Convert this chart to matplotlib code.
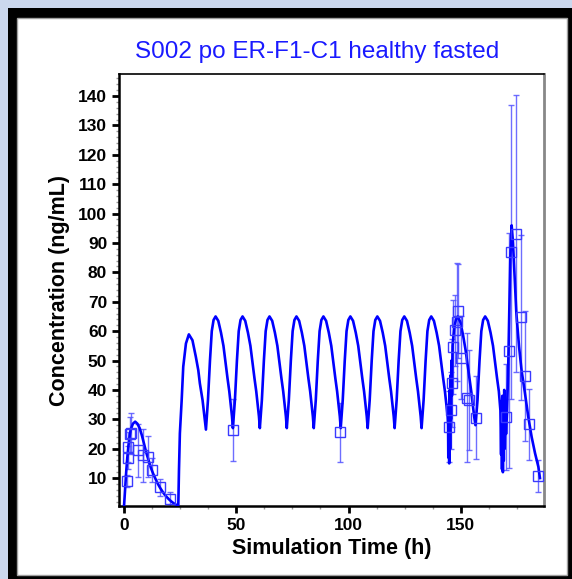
import matplotlib
matplotlib.use("Agg")
import matplotlib.pyplot as plt
from matplotlib.patches import Rectangle
from matplotlib.ticker import MultipleLocator

plt.rcParams['font.family'] = ['Liberation Sans', 'DejaVu Sans']

title = "S002 po ER-F1-C1 healthy fasted"
x_label = "Simulation Time (h)"
y_label = "Concentration (ng/mL)"

# simulated curve
sim_t = [0, 0.5, 1, 1.5, 2, 2.5, 3, 4, 5, 6, 7, 8, 9, 10, 11, 12, 13, 14, 15, 16, 17, 18, 19, 20, 21, 22, 23, 24.2,
         24.5, 24.9, 25.7, 26.4, 27.6, 28.9, 30.5, 32.0, 33.1, 33.8, 35.0, 36.0, 36.5,
         37.4, 38.3, 39.1, 39.9, 40.8, 42.0, 43.2, 44.3, 45.2, 46.1, 46.9, 47.6, 48.1, 48.5,
         49.4, 50.3, 51.1, 51.9, 52.8, 54.0, 55.2, 56.3, 57.2, 58.1, 58.9, 59.6, 60.1, 60.5,
         61.4, 62.3, 63.1, 63.9, 64.8, 66.0, 67.2, 68.3, 69.2, 70.1, 70.9, 71.6, 72.1, 72.5,
         73.4, 74.3, 75.1, 75.9, 76.8, 78.0, 79.2, 80.3, 81.2, 82.1, 82.9, 83.6, 84.1, 84.5,
         85.4, 86.3, 87.1, 87.9, 88.8, 90.0, 91.2, 92.3, 93.2, 94.1, 94.9, 95.6, 96.1, 96.5,
         97.4, 98.3, 99.1, 99.9, 100.8, 102.0, 103.2, 104.3, 105.2, 106.1, 106.9, 107.6, 108.1, 108.5,
         109.4, 110.3, 111.1, 111.9, 112.8, 114.0, 115.2, 116.3, 117.2, 118.1, 118.9, 119.6, 120.1, 120.5,
         121.4, 122.3, 123.1, 123.9, 124.8, 126.0, 127.2, 128.3, 129.2, 130.1, 130.9, 131.6, 132.1, 132.5,
         133.4, 134.3, 135.1, 135.9, 136.8, 138.0, 139.2, 140.3, 141.2, 142.1, 142.9, 143.6, 144.1, 144.3,
         144.4, 144.6, 144.8, 145.0, 145.2, 145.4, 145.6, 145.8, 146.0, 146.3, 147.0, 147.8, 148.6,
         149.8, 151.0, 152.1, 153.0, 153.9, 154.7, 155.4, 155.9, 156.5,
         157.4, 158.3, 159.1, 159.9, 160.8, 162.0, 163.2, 164.3, 165.2, 166.1, 166.9, 167.6,
         167.9, 168.1, 168.3, 168.5, 168.7, 168.9, 169.1, 169.3, 169.5, 169.8, 170.1, 170.5,
         171.0, 171.5, 172.0, 172.6, 173.2, 174.0, 174.7, 175.9, 177.0, 178.5, 180.0, 181.5, 183.0, 184.5, 185.2]
sim_c = [0, 6, 12, 17, 21, 24, 26.5, 28.5, 29.2, 28.5, 27, 24.5, 21.5, 18.5, 16, 13.5, 11.5, 9.8, 8.2, 6.8, 5.6, 4.5, 3.6, 2.8, 2.1, 1.5, 1.0, 0.7,
         12.7, 25.2, 36.5, 47.9, 55.8, 58.9, 56.9, 51.3, 46.7, 42.2, 36.5, 29.7, 26.5,
         36.5, 50, 60, 63.8, 65, 63.5, 59.5, 55, 49.5, 44, 39.5, 34.5, 31, 27,
         36.5, 50, 60, 63.8, 65, 63.5, 59.5, 55, 49.5, 44, 39.5, 34.5, 31, 27,
         36.5, 50, 60, 63.8, 65, 63.5, 59.5, 55, 49.5, 44, 39.5, 34.5, 31, 27,
         36.5, 50, 60, 63.8, 65, 63.5, 59.5, 55, 49.5, 44, 39.5, 34.5, 31, 27,
         36.5, 50, 60, 63.8, 65, 63.5, 59.5, 55, 49.5, 44, 39.5, 34.5, 31, 27,
         36.5, 50, 60, 63.8, 65, 63.5, 59.5, 55, 49.5, 44, 39.5, 34.5, 31, 27,
         36.5, 50, 60, 63.8, 65, 63.5, 59.5, 55, 49.5, 44, 39.5, 34.5, 31, 27,
         36.5, 50, 60, 63.8, 65, 63.5, 59.5, 55, 49.5, 44, 39.5, 34.5, 31, 27,
         36.5, 50, 60, 63.8, 65, 63.5, 59.5, 55, 49.5, 44, 39.5, 34.5, 31, 28,
         17, 35, 15, 40, 20, 45, 30, 50, 38, 55, 61, 64, 65,
         63, 58.5, 53.5, 48.5, 43.5, 39, 34.5, 31, 28,
         36.5, 50, 60, 63.8, 65, 63.5, 59.5, 55, 49.5, 44, 39.5, 33,
         18, 36, 13, 38, 12, 35, 16, 40, 20, 33, 25, 32,
         45, 65, 85, 96, 90, 77, 66, 54.7, 46.7, 39, 30.8, 24, 18.5, 13.8, 10]

# observed data, mean +/- sd
obs_t = [1.2, 1.6, 1.9, 2.7, 3.2, 6.1, 8.3, 10.5, 12.3, 16.0, 20.5, 48.6, 96.1,
         144.6, 145.5, 146.1, 146.6, 147.6, 148.3, 148.5, 150.2, 152.5, 153.8, 156.7,
         170.0, 171.4, 172.5, 174.7, 176.7, 178.7, 180.3, 184.5]
obs_c = [9.0, 17.0, 20.6, 24.9, 25.3, 19.5, 17.8, 17.2, 12.7, 6.8, 2.9, 26.3, 25.6,
         27.5, 33.0, 42.4, 54.6, 60.3, 63.2, 66.9, 51.0, 37.4, 36.5, 30.6,
         30.8, 53.3, 87.0, 93.2, 64.7, 44.7, 28.3, 10.7]
obs_sd = [2, 4, 5, 6, 7, 9, 9, 7, 4, 3, 2.5, 10.5, 10,
          12, 13, 15, 16, 12, 20, 16, 14, 22, 17, 14,
          18, 40, 50, 47, 28, 22, 12, 5.5]

fig = plt.figure(figsize=(5.72, 5.79), dpi=100, facecolor='#cbd8ee')
fig.add_artist(Rectangle((8 / 572, 0), 1, 1 - 8 / 579, transform=fig.transFigure,
                         facecolor='black', edgecolor='none', zorder=0))
fig.add_artist(Rectangle((17 / 572, 4 / 579), 550 / 572, 557 / 579, transform=fig.transFigure,
                         facecolor='white', edgecolor='#a0a0a0', linewidth=1, zorder=0))

ax = fig.add_axes([119 / 572, 1 - 506 / 579, 425 / 572, 432 / 579])
ax.set_facecolor('white')

ax.errorbar(obs_t, obs_c, yerr=obs_sd, fmt='none', ecolor='#5555ff', elinewidth=1,
            capsize=2, capthick=1, alpha=0.85, zorder=2)
ax.plot(sim_t, sim_c, color='#0000ff', linewidth=1.9, zorder=3)
ax.plot(obs_t, obs_c, linestyle='none', marker='s', markersize=7.5,
        markerfacecolor='none', markeredgecolor='#3a3aff', markeredgewidth=1, zorder=4)

ax.set_xlim(-2.2, 187)
ax.set_ylim(0.5, 147.5)
ax.set_xticks([0, 50, 100, 150])
ax.set_yticks(range(10, 141, 10))
ax.xaxis.set_minor_locator(MultipleLocator(12.5))
ax.yaxis.set_minor_locator(MultipleLocator(2))
ax.tick_params(which='major', length=5, width=2, color='black', labelsize=12.5)
ax.tick_params(which='minor', length=2.5, width=1, color='#999999')
for lab in ax.get_xticklabels() + ax.get_yticklabels():
    lab.set_fontweight('bold')

ax.spines['left'].set_linewidth(1.8)
ax.spines['bottom'].set_linewidth(1.8)
ax.spines['top'].set_linewidth(1.2)
ax.spines['right'].set_linewidth(2)
ax.spines['right'].set_color('#888888')

ax.set_xlabel(x_label, fontsize=15.5, fontweight='bold', labelpad=4)
ax.set_ylabel(y_label, fontsize=15.5, fontweight='bold', labelpad=6)
fig.text(317 / 572, 1 - 52 / 579, title, color='#1a1aff', fontsize=17.5,
         ha='center', va='center')

fig.savefig('out.png', dpi=100, facecolor=fig.get_facecolor())
